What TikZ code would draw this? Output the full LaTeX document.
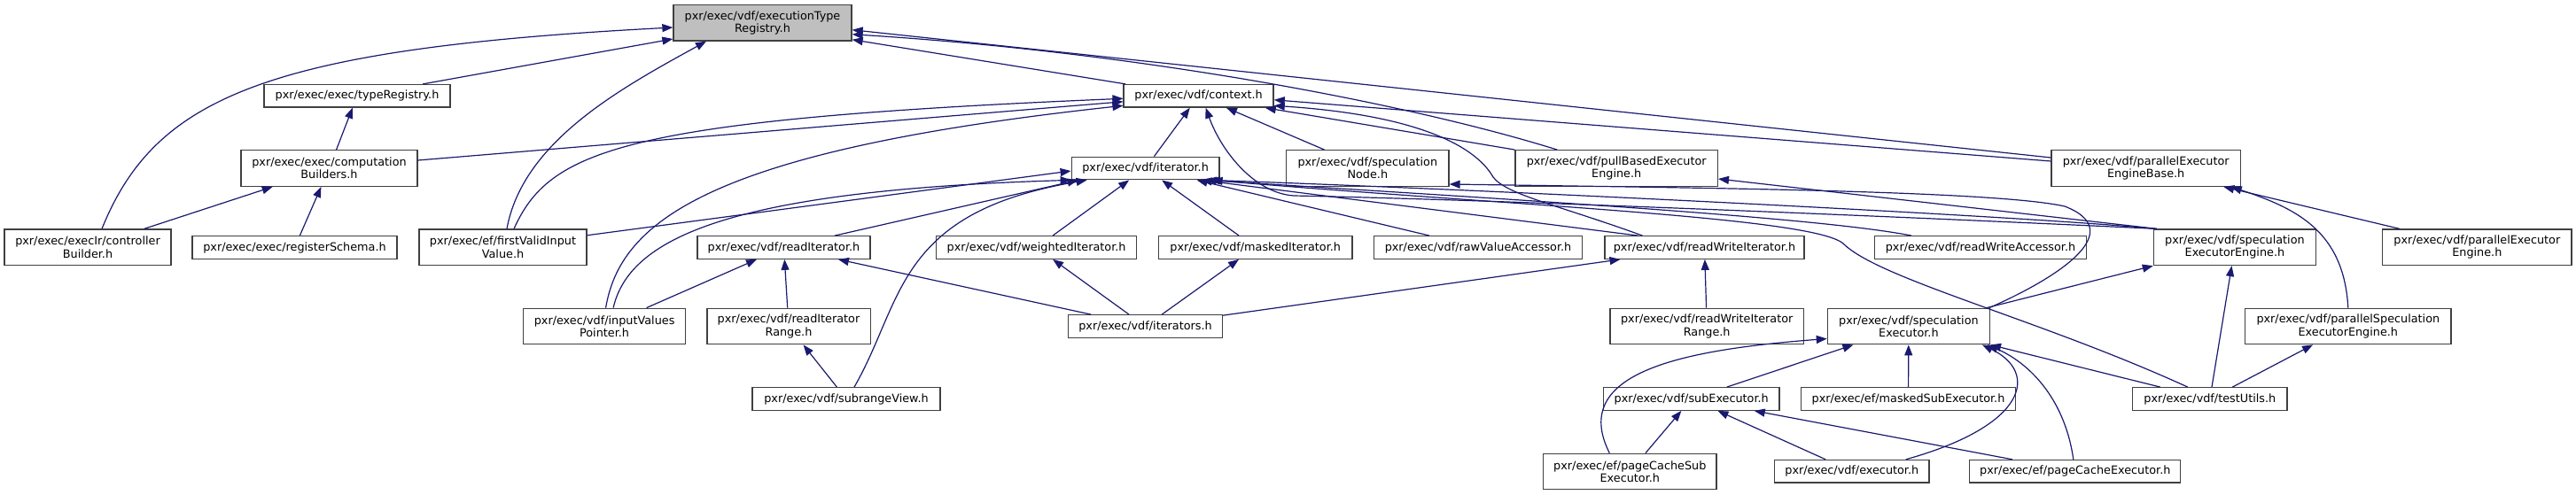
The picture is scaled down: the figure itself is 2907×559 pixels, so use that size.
\documentclass[tikz,border=0pt]{standalone}
\usepackage{fontspec}
\setmainfont{DejaVu Sans}
\usetikzlibrary{arrows.meta}
\definecolor{edgeblue}{HTML}{191970}
\definecolor{boxline}{HTML}{404040}
\definecolor{mainfill}{HTML}{BFBFBF}
\begin{document}
\begin{tikzpicture}[x=1pt,y=-1pt,
  fbox/.style={draw=boxline, line width=1.3pt, fill=white, inner sep=0pt, align=center, font=\fontsize{12.8}{14.2}\selectfont},
  one/.style={minimum height=25.5pt},
  two/.style={minimum height=40.5pt},
  edge/.style={draw=edgeblue, line width=1.2pt, -{Triangle[length=12pt,width=9pt]}},
]
\useasboundingbox (0,0) rectangle (2907,559);
% rank 0
\node[fbox,two,minimum width=201pt,fill=mainfill] (etr) at (860.5,25.75) {pxr/exec/vdf/executionType\\Registry.h};
% rank 1
\node[fbox,one,minimum width=210pt] (treg) at (403,108.3) {pxr/exec/exec/typeRegistry.h};
\node[fbox,one,minimum width=169pt] (ctx) at (1352.6,108.3) {pxr/exec/vdf/context.h};
% rank 2
\node[fbox,two,minimum width=199pt] (cb) at (371.5,190) {pxr/exec/exec/computation\\Builders.h};
\node[fbox,one,minimum width=166.7pt] (it) at (1292.6,190) {pxr/exec/vdf/iterator.h};
\node[fbox,two,minimum width=183.3pt] (sn) at (1543.3,190) {pxr/exec/vdf/speculation\\Node.h};
\node[fbox,two,minimum width=228.3pt] (pb) at (1824.2,190) {pxr/exec/vdf/pullBasedExecutor\\Engine.h};
\node[fbox,two,minimum width=213.3pt] (peb) at (2421.7,190) {pxr/exec/vdf/parallelExecutor\\EngineBase.h};
% rank 3
\node[fbox,two,minimum width=188pt] (ctrl) at (99,279.25) {pxr/exec/execIr/controller\\Builder.h};
\node[fbox,one,minimum width=231pt] (rs) at (332.5,279.5) {pxr/exec/exec/registerSchema.h};
\node[fbox,two,minimum width=189pt] (fv) at (567.5,279.25) {pxr/exec/ef/firstValidInput\\Value.h};
\node[fbox,one,minimum width=195pt] (ri) at (884.5,279.5) {pxr/exec/vdf/readIterator.h};
\node[fbox,one,minimum width=225.7pt] (wi) at (1169.6,279.5) {pxr/exec/vdf/weightedIterator.h};
\node[fbox,one,minimum width=218.7pt] (mi) at (1416.7,279.5) {pxr/exec/vdf/maskedIterator.h};
\node[fbox,one,minimum width=235.6pt] (rva) at (1668,279.5) {pxr/exec/vdf/rawValueAccessor.h};
\node[fbox,one,minimum width=225pt] (rwi) at (1923.5,279.5) {pxr/exec/vdf/readWriteIterator.h};
\node[fbox,one,minimum width=238.7pt] (rwa) at (2235,279.5) {pxr/exec/vdf/readWriteAccessor.h};
\node[fbox,two,minimum width=183pt] (see) at (2521.9,279.25) {pxr/exec/vdf/speculation\\ExecutorEngine.h};
\node[fbox,two,minimum width=213.6pt] (pee) at (2795.3,279.25) {pxr/exec/vdf/parallelExecutor\\Engine.h};
% rank 4
\node[fbox,two,minimum width=183pt] (ivp) at (682.1,368.5) {pxr/exec/vdf/inputValues\\Pointer.h};
\node[fbox,two,minimum width=184.3pt] (rir) at (890,368.5) {pxr/exec/vdf/readIterator\\Range.h};
\node[fbox,one,minimum width=174pt] (its) at (1292.5,368.5) {pxr/exec/vdf/iterators.h};
\node[fbox,two,minimum width=218.4pt] (rwir) at (1926.2,368.5) {pxr/exec/vdf/readWriteIterator\\Range.h};
\node[fbox,two,minimum width=183pt] (sx) at (2153.9,368.5) {pxr/exec/vdf/speculation\\Executor.h};
\node[fbox,two,minimum width=232.5pt] (pse) at (2649.8,368.5) {pxr/exec/vdf/parallelSpeculation\\ExecutorEngine.h};
% rank 5
\node[fbox,one,minimum width=212pt] (srv) at (955,450.5) {pxr/exec/vdf/subrangeView.h};
\node[fbox,one,minimum width=198.7pt] (se) at (1908.7,450.5) {pxr/exec/vdf/subExecutor.h};
\node[fbox,one,minimum width=242.3pt] (mse) at (2153.5,450.5) {pxr/exec/ef/maskedSubExecutor.h};
\node[fbox,one,minimum width=174.5pt] (tu) at (2493.8,450.5) {pxr/exec/vdf/testUtils.h};
% rank 6
\node[fbox,two,minimum width=195.2pt] (pcs) at (1839.3,532.5) {pxr/exec/ef/pageCacheSub\\Executor.h};
\node[fbox,one,minimum width=174.5pt] (ex) at (2089.8,532.2) {pxr/exec/vdf/executor.h};
\node[fbox,one,minimum width=238pt] (pce) at (2341.8,532.2) {pxr/exec/ef/pageCacheExecutor.h};

% edges to executionTypeRegistry
\draw[edge] ([xshift=16pt]ctrl.north) .. controls (175,110) and (300,55) .. ([yshift=-5.25pt]etr.west);
\draw[edge] (treg) -- (etr);
\draw[edge] ([xshift=4.5pt]fv.north) .. controls (590,160) and (700,100) .. ([xshift=-63.5pt]etr.south);
\draw[edge] (ctx) -- ([yshift=-19pt]etr.east);
\draw[edge] ([xshift=-67pt]pb.north) .. controls (1600,120) and (1300,60) .. ([yshift=-13pt]etr.east);
\draw[edge] ([yshift=12pt]peb.west) -- ([yshift=-8pt]etr.east);
% typeRegistry / computationBuilders
\draw[edge] (cb) -- (treg);
\draw[edge] (ctrl) -- (cb);
\draw[edge] (rs) -- (cb);
% context
\draw[edge] ([yshift=9pt]cb.east) -- ([yshift=-6.5pt]ctx.west);
\draw[edge] ([xshift=12.5pt]fv.north) .. controls (620,170) and (700,135) .. ([yshift=-3pt]ctx.west);
\draw[edge] ([xshift=1.5pt]ivp.north) .. controls (700,250) and (800,170) .. ([yshift=-11pt]ctx.west);
\draw[edge] (it) -- (ctx);
\draw[edge] (sn) -- (ctx);
\draw[edge] (pb.north west) -- ([xshift=-10pt]ctx.south east);
\draw[edge] ([yshift=8pt]peb.west) -- ([yshift=-4.5pt]ctx.east);
\draw[edge] ([xshift=-88pt]see.north) .. controls (2150,245) and (1700,226) .. (1460,221) .. controls (1415,218) and (1378,170) .. ([xshift=8pt]ctx.south);
\draw[edge] ([xshift=-70pt]rwi.north) .. controls (1760,232) and (1700,220) .. (1685,200) .. controls (1665,165) and (1600,130) .. ([yshift=-11pt]ctx.east);
% iterator
\draw[edge] ([yshift=13.5pt]fv.east) -- ([yshift=-3pt]it.west);
\draw[edge] ([xshift=10pt]ivp.north) .. controls (710,270) and (820,215) .. (it.south west);
\draw[edge] ([xshift=57.5pt]ri.north) -- ([xshift=-76pt]it.south);
\draw[edge] ([xshift=9pt]srv.north) .. controls (1020,340) and (1010,240) .. ([xshift=-66pt]it.south);
\draw[edge] (wi) -- (it);
\draw[edge] (mi) -- (it);
\draw[edge] ([xshift=-55pt]rva.north) -- ([xshift=58pt]it.south);
\draw[edge] ([xshift=-75pt]rwi.north) -- ([xshift=63pt]it.south);
\draw[edge] ([xshift=-78pt]rwa.north) .. controls (2050,245) and (1700,225) .. ([xshift=68pt]it.south);
\draw[edge] ([xshift=-90pt]see.north) .. controls (2300,245) and (1700,215) .. ([xshift=72pt]it.south);
\draw[edge] ([xshift=-25pt]tu.north) .. controls (2300,360) and (2120,315) .. (2080,275) .. controls (2045,245) and (1700,232) .. ([xshift=75pt]it.south);
% right side
\draw[edge] ([xshift=-88pt]see.north) -- ([yshift=-12pt]pb.east);
\draw[edge] ([xshift=91pt]sx.north) .. controls (2330,310) and (2400,260) .. (2330,233) .. controls (2250,215) and (1900,212) .. ([yshift=-18pt]sn.east);
\draw[edge] ([xshift=88pt]sx.north) -- (see.south west);
\draw[edge] (se) -- (sx);
\draw[edge] (mse) -- (sx);
\draw[edge] ([xshift=61pt]ex.north) .. controls (2290,480) and (2300,420) .. ([xshift=83pt]sx.south);
\draw[edge] ([xshift=-2pt]pce.north) .. controls (2330,450) and (2290,410) .. ([xshift=89pt]sx.south);
\draw[edge] ([xshift=-56pt]tu.north) -- (sx.south east);
\draw[edge] ([xshift=-23pt]pcs.north) .. controls (1770,420) and (1900,395) .. ([yshift=-14pt]sx.west);
\draw[edge] (pcs) -- (se);
\draw[edge] (ex) -- (se);
\draw[edge] (pce) -- (se);
\draw[edge] (tu) -- (see);
\draw[edge] (tu) -- (pse);
\draw[edge] (pse.north) .. controls (2645,260) and (2590,235) .. ([xshift=96pt]peb.south);
\draw[edge] (pee) -- (peb);
% lower left
\draw[edge] (rir) -- (ri);
\draw[edge] (ivp) -- (ri);
\draw[edge] (srv) -- (rir);
\draw[edge] (its) -- (ri);
\draw[edge] (its) -- (wi);
\draw[edge] (its) -- (mi);
\draw[edge] (its) -- (rwi);
\draw[edge] (rwir) -- (rwi);
\end{tikzpicture}
\end{document}
